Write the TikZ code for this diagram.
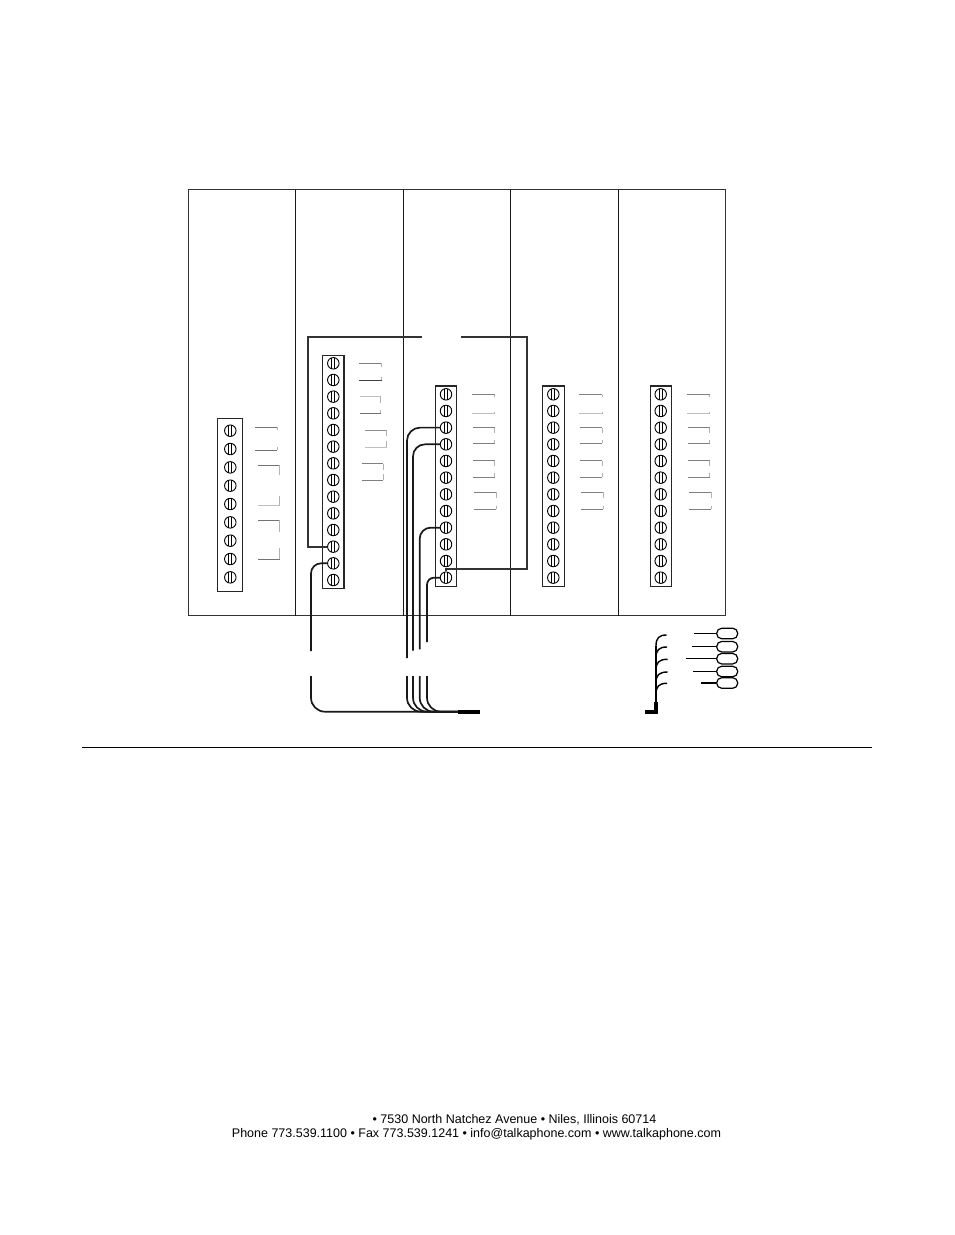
\documentclass[tikz,border=0pt]{standalone}
\usepackage{fontspec}
\setmainfont{Liberation Sans}
\usepackage{tikz}
\tikzset{
  strip/.style={draw, rectangle, line width=1.2pt, black!85, minimum width=21.5pt, inner sep=0pt},
  screw/.style={draw, circle, line width=0.9pt, black, minimum size=11.5pt, inner sep=0pt,
    path picture={\draw[line width=0.9pt] ([xshift=-1.4pt]path picture bounding box.north) -- ([xshift=-1.4pt]path picture bounding box.south);
      \draw[line width=0.9pt] ([xshift=1.4pt]path picture bounding box.north) -- ([xshift=1.4pt]path picture bounding box.south);}},
  wire/.style={draw, line width=1.7pt, black!90},
  jumper/.style={draw, line width=1.8pt, black!80},
  lug/.style={draw, rectangle, rounded corners=5pt, line width=1.2pt, minimum width=21pt, minimum height=10.5pt, inner sep=0pt}
}
\newcommand{\bracketpair}[8]{% x1, x2, top y, top tick, bottom y, bottom tick, grey top, grey bottom
  \draw[line width=1pt, black!#7] (#1,#3) -- (#2,#3);
  \draw[line width=1pt, black!30] (#2,#3) -- (#2,#4);
  \draw[line width=1pt, black!#8] (#1,#5) -- (#2,#5);
  \draw[line width=1pt, black!30] (#2,#5) -- (#2,#6);
}
\begin{document}
\begin{tikzpicture}[x=1pt, y=-1pt]
\useasboundingbox[fill=white] (0,0) rectangle (954,1235);

% Panels
\draw[line width=1pt, black!80] (188.5,189.5) rectangle (725.5,615.5);
\foreach \xdiv in {295.5,403.5,510.5,618.5}
  \draw[line width=1pt, black!90] (\xdiv,189.5) -- (\xdiv,615.5);

% Terminal strips
\node[strip, minimum width=24.5pt, minimum height=173pt] (stripa) at (230,504.8) {};
\node[strip, minimum height=233pt] (stripb) at (333.3,471.8) {};
\node[strip, minimum height=200.3pt] (stripc) at (446,486.2) {};
\node[strip, minimum height=200.3pt] (stripd) at (553.5,486.2) {};
\node[strip, minimum height=200.3pt] (stripe) at (661,486.2) {};

% Screws
\foreach \i in {1,...,9}
  \node[screw] (a\i) at (230.3,{430.7+18.33*(\i-1)}) {};
\foreach \i in {1,...,14}
  \node[screw] (b\i) at (333.3,{363.3+16.67*(\i-1)}) {};
\foreach \i in {1,...,12} {
  \node[screw] (c\i) at (446,{394.3+16.67*(\i-1)}) {};
  \node[screw] (d\i) at (553.3,{394.3+16.67*(\i-1)}) {};
  \node[screw] (e\i) at (660.7,{394.3+16.67*(\i-1)}) {};
}

% Brackets strip a
\bracketpair{255.3}{277.3}{427.3}{430}{450.3}{447}{55}{55}
\bracketpair{258}{279.5}{465}{475}{505}{495.7}{55}{25}
\bracketpair{258}{279.5}{520}{532}{559.3}{548}{55}{55}

% Brackets strip b
\bracketpair{358.7}{381.7}{363.3}{367}{380}{376.7}{50}{75}
\bracketpair{360}{380.7}{396.7}{402.7}{413.3}{410}{25}{55}
\bracketpair{365.3}{386.7}{430}{436}{447}{441}{45}{25}
\bracketpair{361.7}{383.3}{463.7}{470}{480.3}{474}{50}{50}

% Brackets strips c, d, e
\foreach \xoff in {0,107.3,215} {
  \bracketpair{471.7+\xoff}{494.7+\xoff}{394.7}{397}{413.7}{412}{50}{25}
  \bracketpair{473+\xoff}{494.7+\xoff}{427.7}{433}{443.3}{440}{50}{50}
  \bracketpair{473+\xoff}{494.7+\xoff}{460.7}{466}{477}{473}{50}{50}
  \bracketpair{474+\xoff}{496+\xoff}{492.3}{498}{509.3}{506}{50}{50}
}

% Jumper
\coordinate (jumpl) at (421.7,336.7);
\coordinate (jumpr) at (460.7,336.7);
\draw[jumper] (b12.west) -| (307.7,336.7) -- (jumpl);
\draw[jumper] (jumpr) -| (526.7,569) -| (c12.north);

% Cable upper part
\coordinate (wirea) at (311,651);
\coordinate (wireb) at (407,658);
\coordinate (wirec) at (413,650.7);
\coordinate (wired) at (419.7,649.3);
\coordinate (wiree) at (427,642);
\draw[wire, rounded corners=10pt] (b13.west) -| (wirea);
\draw[wire, rounded corners=13pt] (c3.west) -| (wireb);
\draw[wire, rounded corners=12pt] (c4.west) -| (wirec);
\draw[wire, rounded corners=11pt] (c9.west) -| (wired);
\draw[wire, rounded corners=7pt] (c12.west) -| (wiree);

% Cable lower part
\coordinate (cableend) at (458,711.7);
\coordinate (cabletip) at (480,711.7);
\foreach \xw in {311,407,413,419.7,427}
  \draw[wire, rounded corners=14pt] (\xw,676) |- (cableend);
\draw[line width=4.4pt, black] (cableend) -- (cabletip);

% Lugs
\node[lug] (luga) at (727.2,633.5) {};
\node[lug] (lugb) at (727.2,646.7) {};
\node[lug] (lugc) at (727.2,658.7) {};
\node[lug] (lugd) at (727.2,671.5) {};
\node[lug] (luge) at (727.2,683) {};
\coordinate (leada) at (694,633.5);
\coordinate (leadb) at (691.7,646.7);
\coordinate (leadc) at (685.7,658.7);
\coordinate (leadd) at (693,671.5);
\coordinate (leade) at (701,683);
\foreach \lg/\ld in {luga/leada,lugb/leadb,lugc/leadc,lugd/leadd,luge/leade}
  \draw[line width=1.4pt] (\ld) -- (\lg.west);

% Harness
\draw[line width=1.8pt] (656,646) -- (656,703);
\draw[line width=3.8pt] (656,702) -- (656,711.7) -- (645,711.7);
\foreach \ybr/\xbr in {635/666.7,647/667,659.3/667.7,672/667.7,683.3/667}
  \draw[line width=1.4pt] (656,\ybr+11) .. controls (656,\ybr+3) and (659,\ybr) .. (\xbr,\ybr);

% Rule
\draw[line width=0.9pt] (82,747.5) -- (872,747.5);

% Footer
\node[font=\fontsize{12.5}{15}\selectfont, inner sep=0pt] (addr) at (514.5,1119.5) {• 7530 North Natchez Avenue • Niles, Illinois 60714};
\node[font=\fontsize{12.5}{15}\selectfont, inner sep=0pt] (contact) at (476.5,1134) {Phone 773.539.1100 • Fax 773.539.1241 • info@talkaphone.com • www.talkaphone.com};
\end{tikzpicture}
\end{document}
